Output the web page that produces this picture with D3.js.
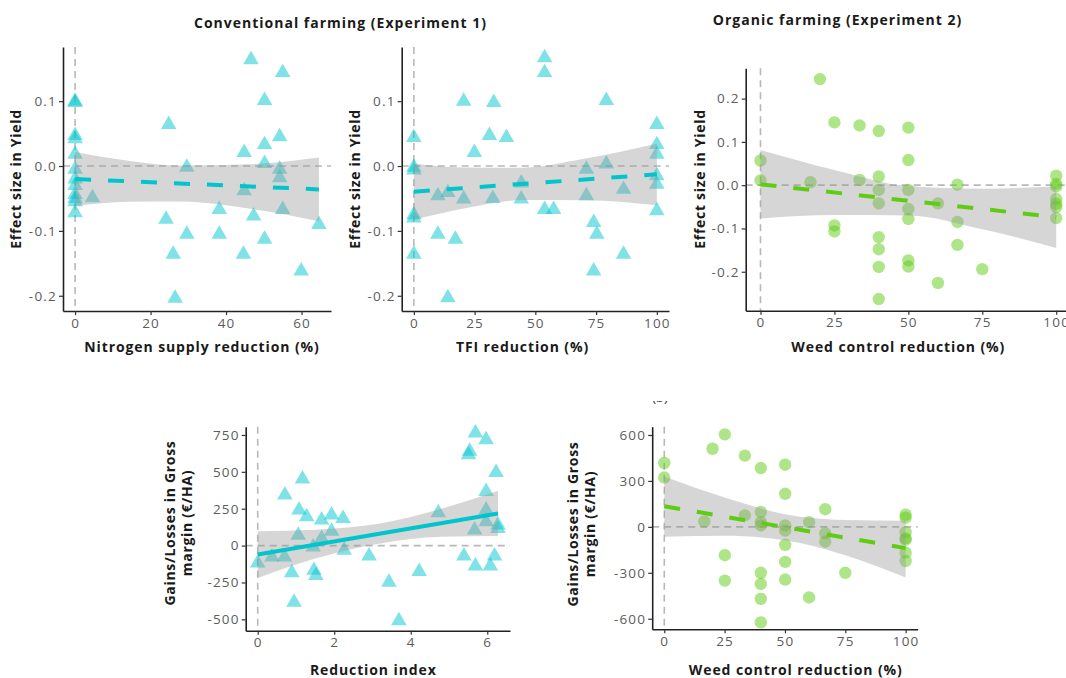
<!DOCTYPE html>
<html>
<head>
<meta charset="utf-8">
<script src="https://cdn.jsdelivr.net/npm/d3@7"></script>
<style>
  html, body { margin: 0; padding: 0; background: #fff; }
  svg { display: block; }
  text { font-family: "Open Sans", Lato, sans-serif; }
</style>
</head>
<body>
<svg id="chart" width="1066" height="678"></svg>
<script>
// ---------- Experiment 1: conventional farming ----------
const nitrogenX = [0,0,0,0,0,0,0,0,0,0,0,0, 4.6, 24.8,24.1,26.0,26.5,29.6,29.6,38.2,38.2,44.8,44.8,44.6,46.6,47.3,50.2,50.2,50.2,50.2,54.2,54.2,54.2,55.0,55.0,59.9,64.6];
const nitrogenYield = [0.1,0.098,0.047,0.042,0.018,-0.005,-0.02,-0.03,-0.044,-0.05,-0.055,-0.072, -0.049, 0.064,-0.082,-0.136,-0.204,-0.002,-0.105,-0.067,-0.105,0.021,-0.038,-0.136,0.164,-0.077,0.101,0.033,0.004,-0.113,0.045,-0.005,-0.018,0.144,-0.067,-0.162,-0.090];
const nitrogenFitX = [0, 64.6];
const nitrogenFitY = [-0.020, -0.036];
const nitrogenBandX = [0, 14, 28, 46, 64.6];
const nitrogenBandLo = [-0.0615, -0.0552, -0.0545, -0.0654, -0.085];
const nitrogenBandHi = [0.0215, 0.0082, 0.0007, 0.0026, 0.013];

const tfiX = [0,0,0,0,0,0, 9.9,9.9,14.0,14.0,17.1,20.5,20.5,24.9,31.1,32.9,32.5,38.1,44.2,44.2,53.8,53.8,53.8,57.5,71.0,71.0,74.0,74.0,75.3,79.2,79.2,86.3,86.3, 100,100,100,100,100,100];
const tfiYield = [0.044,-0.002,-0.006,-0.075,-0.08,-0.136, -0.046,-0.105,-0.041,-0.203,-0.113,0.1,-0.051,0.021,0.047,0.098,-0.05,0.044,-0.026,-0.051,0.167,0.144,-0.067,-0.067,-0.005,-0.046,-0.087,-0.162,-0.105,0.101,0.003,-0.036,-0.136, 0.064,0.033,0.018,-0.015,-0.028,-0.069];
const tfiFitX = [0, 100];
const tfiFitY = [-0.0395, -0.0128];
const tfiBandX = [0, 20, 45, 70, 100];
const tfiBandLo = [-0.083, -0.0659, -0.0525, -0.0527, -0.0603];
const tfiBandHi = [0.004, -0.0021, -0.0025, 0.0111, 0.0347];

const indexX = [0,0.37,0.70,0.71,0.89,0.95,1.06,1.08,1.17,1.28,1.45,1.47,1.52,1.67,1.67,1.93,1.93,2.23,2.26,2.91,3.43,3.69,4.22,4.72,5.39,5.51,5.54,5.67,5.69,5.69,5.97,5.97,5.97,5.97,6.08,6.19,6.23,6.28,6.28];
const indexMargin = [-118,-77,-77,343,-184,-384,70,241,452,195,-9,-168,-202,48,173,207,98,184,-32,-70,-248,-509,-175,223,-70,616,639,105,764,-139,718,366,241,161,-139,-70,495,139,116];
const indexFitX = [0, 6.28];
const indexFitY = [-61, 218];
const indexBandX = [0, 1.5, 3.2, 4.8, 6.28];
const indexBandLo = [-220, -88, 15, 60, 65];
const indexBandHi = [98, 108, 150, 250, 371];

// ---------- Experiment 2: organic farming ----------
const weedX = [0,0,16.9,20.1,25,25,25,33.5,33.5,40,40,40,40,40,40,40,40,50,50,50,50,50,50,50,60,60,66.6,66.6,66.6,75,100,100,100,100,100,100,100];
const weedYield = [0.057,0.011,0.007,0.245,0.145,-0.093,-0.107,0.138,0.012,0.125,0.02,-0.011,-0.042,-0.12,-0.148,-0.189,-0.263,0.133,0.058,-0.011,-0.055,-0.078,-0.174,-0.188,-0.042,-0.226,0.001,-0.085,-0.138,-0.194,0.022,0.003,-0.003,-0.032,-0.043,-0.05,-0.076];
const weedFitX = [0, 100];
const weedFitY = [0.002, -0.074];
const weedBandX = [0, 25, 50, 75, 100];
const weedBandLo = [-0.077, -0.069, -0.070, -0.102, -0.145];
const weedBandHi = [0.081, 0.035, -0.002, -0.008, -0.003];

const weedMarginX = [0,0,16.6,20,25.1,25.1,25.1,33.4,33.4,40,40,40,40,40,40,40,40,50.1,50.1,50.1,50.1,50.1,50.1,50.1,60,60,66.7,66.7,66.7,75,100,100,100,100,100,100,100];
const weedMargin = [417,322,35,510,604,-185,-351,465,75,384,97,31,9,-300,-373,-470,-624,406,216,9,-24,-117,-229,-344,31,-461,115,-42,-97,-300,79,60,-35,-75,-84,-168,-223];
const weedMarginFitX = [0, 100];
const weedMarginFitY = [135, -139];
const weedMarginBandX = [0, 25, 50, 75, 100];
const weedMarginBandLo = [-65, -58, -87, -186, -330];
const weedMarginBandHi = [328, 191, 83, 45, 40];

// ---------- ticks ----------
const yieldTicks = [-0.2, -0.1, 0, 0.1];
const yieldTicksOrganic = [-0.2, -0.1, 0, 0.1, 0.2];
const nitrogenTicks = [0, 20, 40, 60];
const percentTicks = [0, 25, 50, 75, 100];
const indexTicks = [0, 2, 4, 6];
const marginTicksConv = [-500, -250, 0, 250, 500, 750];
const marginTicksOrg = [-600, -300, 0, 300, 600];

// ---------- colours ----------
const cyan = "#00c5cd";
const green = "#5fcc14";

const locale = d3.formatLocale({decimal: ".", thousands: "", grouping: [3], currency: ["", ""], minus: "-"});
const fmt1 = locale.format(".1f");
const fmt0 = locale.format("d");

const svg = d3.select("#chart");

function panel(cfg) {
  const x = d3.scaleLinear().domain(cfg.xDomain).range(cfg.xRange);
  const y = d3.scaleLinear().domain(cfg.yDomain).range(cfg.yRange);
  const g = svg.append("g");

  // reference lines at zero
  g.append("line")
    .attr("x1", x(0)).attr("x2", x(0))
    .attr("y1", cfg.yRange[1]).attr("y2", cfg.yRange[0])
    .attr("stroke", "#b8b8b8").attr("stroke-width", 1.6)
    .attr("stroke-dasharray", "7,5");
  g.append("line")
    .attr("x1", cfg.xRange[0]).attr("x2", cfg.xRange[1])
    .attr("y1", y(0)).attr("y2", y(0))
    .attr("stroke", "#b8b8b8").attr("stroke-width", 1.6)
    .attr("stroke-dasharray", "7,5");

  // observations
  const pts = cfg.xs.map((v, i) => [v, cfg.ys[i]]);
  if (cfg.shape === "triangle") {
    const sym = d3.symbol().type(d3.symbolTriangle).size(105);
    g.selectAll("path.pt").data(pts).join("path")
      .attr("class", "pt")
      .attr("d", sym)
      .attr("transform", d => `translate(${x(d[0])},${y(d[1])})`)
      .attr("fill", cfg.color).attr("fill-opacity", 0.5);
  } else {
    g.selectAll("circle.pt").data(pts).join("circle")
      .attr("class", "pt")
      .attr("cx", d => x(d[0])).attr("cy", d => y(d[1]))
      .attr("r", 6.2)
      .attr("fill", cfg.color).attr("fill-opacity", 0.5);
  }

  // confidence band
  const band = cfg.bandX.map((v, i) => [v, cfg.bandLo[i], cfg.bandHi[i]]);
  g.append("path")
    .datum(band)
    .attr("d", d3.area().curve(d3.curveMonotoneX)
      .x(d => x(d[0])).y0(d => y(d[1])).y1(d => y(d[2])))
    .attr("fill", "#999999").attr("fill-opacity", 0.4);

  // fitted line
  const fit = cfg.fitX.map((v, i) => [v, cfg.fitY[i]]);
  g.append("path")
    .datum(fit)
    .attr("d", d3.line().x(d => x(d[0])).y(d => y(d[1])))
    .attr("fill", "none")
    .attr("stroke", cfg.lineColor)
    .attr("stroke-width", 4)
    .attr("stroke-dasharray", cfg.dashed ? "16,17" : null);

  // axes
  const xAxis = d3.axisBottom(x).tickValues(cfg.xTicks).tickFormat(cfg.xFmt)
    .tickSize(4).tickSizeOuter(0).tickPadding(3);
  const yAxis = d3.axisLeft(y).tickValues(cfg.yTicks).tickFormat(cfg.yFmt)
    .tickSize(4).tickSizeOuter(0).tickPadding(2);

  const gx = g.append("g").attr("transform", `translate(0,${cfg.yRange[0]})`).call(xAxis);
  const gy = g.append("g").attr("transform", `translate(${cfg.xRange[0]},0)`).call(yAxis);
  [gx, gy].forEach(a => {
    a.select(".domain").attr("stroke", "#222").attr("stroke-width", 1.6);
    a.selectAll(".tick line").attr("stroke", "#333").attr("stroke-width", 1.2);
    a.selectAll(".tick text").attr("fill", "#5c5c5c").style("font-size", "13.5px")
      .style("letter-spacing", "1.2px")
      .style("font-family", "'Open Sans', Lato, sans-serif");
  });

  // axis titles
  g.append("text")
    .attr("x", cfg.xTitlePos[0]).attr("y", cfg.xTitlePos[1])
    .attr("text-anchor", "middle")
    .attr("fill", "#1a1a1a").style("font-size", "14px").style("font-weight", 700)
    .style("letter-spacing", "0.9px")
    .text(cfg.xTitle);

  const yt = g.append("text")
    .attr("transform", `translate(${cfg.yTitlePos[0]},${cfg.yTitlePos[1]}) rotate(-90)`)
    .attr("text-anchor", "middle")
    .attr("fill", "#1a1a1a").style("font-size", "14px").style("font-weight", 700)
    .style("letter-spacing", "0.7px");
  cfg.yTitle.forEach((line, i) => {
    yt.append("tspan").attr("x", 0).attr("dy", i === 0 ? 0 : 17).text(line);
  });
}

panel({
  xs: nitrogenX, ys: nitrogenYield, shape: "triangle", color: cyan, lineColor: cyan, dashed: true,
  fitX: nitrogenFitX, fitY: nitrogenFitY,
  bandX: nitrogenBandX, bandLo: nitrogenBandLo, bandHi: nitrogenBandHi,
  xDomain: [-3.2, 67.8], xRange: [63, 331], yDomain: [-0.2235, 0.1835], yRange: [311, 47],
  xTicks: nitrogenTicks, xFmt: fmt0, yTicks: yieldTicks, yFmt: fmt1,
  xTitle: "Nitrogen supply reduction (%)", xTitlePos: [202, 352],
  yTitle: ["Effect size in Yield"], yTitlePos: [21, 179]
});

panel({
  xs: tfiX, ys: tfiYield, shape: "triangle", color: cyan, lineColor: cyan, dashed: true,
  fitX: tfiFitX, fitY: tfiFitY,
  bandX: tfiBandX, bandLo: tfiBandLo, bandHi: tfiBandHi,
  xDomain: [-5, 105], xRange: [401.7, 669], yDomain: [-0.2235, 0.1835], yRange: [311, 47],
  xTicks: percentTicks, xFmt: fmt0, yTicks: yieldTicks, yFmt: fmt1,
  xTitle: "TFI reduction (%)", xTitlePos: [522.5, 352],
  yTitle: ["Effect size in Yield"], yTitlePos: [359.5, 179]
});

panel({
  xs: weedX, ys: weedYield, shape: "circle", color: green, lineColor: green, dashed: true,
  fitX: weedFitX, fitY: weedFitY,
  bandX: weedBandX, bandLo: weedBandLo, bandHi: weedBandHi,
  xDomain: [-5, 105], xRange: [745.7, 1071], yDomain: [-0.29, 0.27], yRange: [310.7, 68.3],
  xTicks: percentTicks, xFmt: fmt0, yTicks: yieldTicksOrganic, yFmt: fmt1,
  xTitle: "Weed control reduction (%)", xTitlePos: [898.3, 352],
  yTitle: ["Effect size in Yield"], yTitlePos: [704.5, 179]
});

panel({
  xs: indexX, ys: indexMargin, shape: "triangle", color: cyan, lineColor: cyan, dashed: false,
  fitX: indexFitX, fitY: indexFitY,
  bandX: indexBandX, bandLo: indexBandLo, bandHi: indexBandHi,
  xDomain: [-0.314, 6.594], xRange: [245.7, 510], yDomain: [-577, 806], yRange: [630.7, 426.7],
  xTicks: indexTicks, xFmt: fmt0, yTicks: marginTicksConv, yFmt: fmt0,
  xTitle: "Reduction index", xTitlePos: [373.3, 675],
  yTitle: ["Gains/Losses in Gross", "margin (€/HA)"], yTitlePos: [174.5, 523]
});

panel({
  xs: weedMarginX, ys: weedMargin, shape: "circle", color: green, lineColor: green, dashed: true,
  fitX: weedMarginFitX, fitY: weedMarginFitY,
  bandX: weedMarginBandX, bandLo: weedMarginBandLo, bandHi: weedMarginBandHi,
  xDomain: [-5, 105], xRange: [652.2, 917.7], yDomain: [-669, 654], yRange: [629.3, 426.7],
  xTicks: percentTicks, xFmt: fmt0, yTicks: marginTicksOrg, yFmt: fmt0,
  xTitle: "Weed control reduction (%)", xTitlePos: [795.8, 675],
  yTitle: ["Gains/Losses in Gross", "margin (€/HA)"], yTitlePos: [577.5, 524]
});

// experiment headings
svg.append("text")
  .attr("x", 340.5).attr("y", 27.5).attr("text-anchor", "middle")
  .attr("fill", "#1a1a1a").style("font-size", "14px").style("font-weight", 700)
  .style("letter-spacing", "1px")
  .text("Conventional farming (Experiment 1)");
svg.append("text")
  .attr("x", 837.5).attr("y", 25).attr("text-anchor", "middle")
  .attr("fill", "#1a1a1a").style("font-size", "14px").style("font-weight", 700)
  .style("letter-spacing", "1px")
  .text("Organic farming (Experiment 2)");

// panel tag, mostly hidden above the lower-right plot
svg.append("clipPath").attr("id", "tagClip")
  .append("rect").attr("x", 640).attr("y", 401).attr("width", 40).attr("height", 4);
svg.append("text")
  .attr("x", 660).attr("y", 402).attr("text-anchor", "middle")
  .attr("clip-path", "url(#tagClip)")
  .attr("fill", "#333").style("font-size", "13px")
  .text("(b)");
</script>
</body>
</html>
